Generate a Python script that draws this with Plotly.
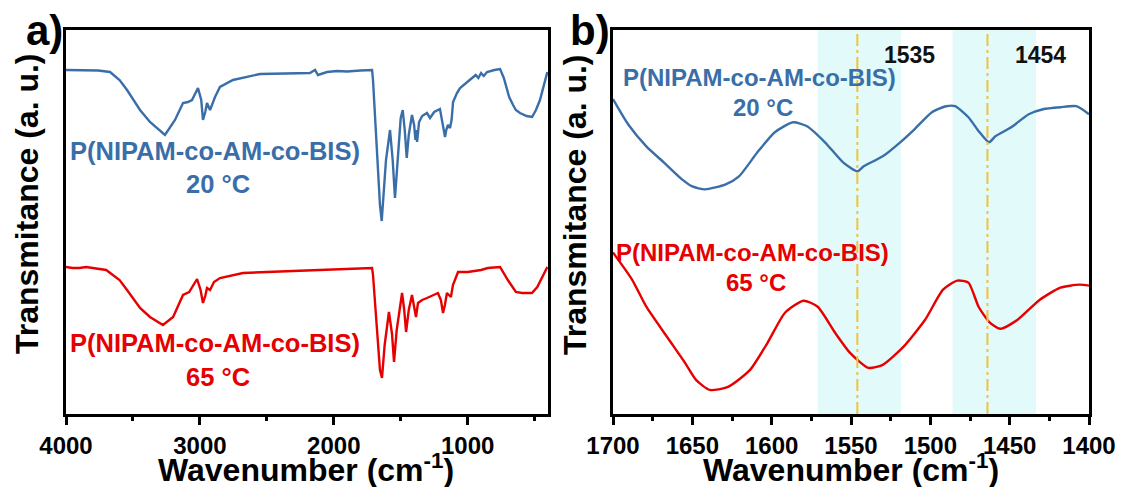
import plotly.graph_objects as go

# ---------------- data ----------------
# Panel a: full spectrum
a_wn_20 = [4000, 3850, 3760, 3671, 3600, 3544, 3447, 3373, 3320, 3261, 3186, 3126, 3089, 3059,
           3014, 2990, 2977, 2960, 2947, 2924, 2887, 2850, 2753, 2551, 2178, 2140, 2118, 2050,
           1976, 1900, 1800, 1714, 1707, 1680, 1655, 1642, 1630, 1610, 1580, 1560, 1543, 1520,
           1500, 1485, 1470, 1455, 1440, 1416, 1400, 1390, 1385, 1378, 1363, 1340, 1320, 1304,
           1281, 1250, 1207, 1190, 1169, 1160, 1147, 1132, 1120, 1109, 1080, 1057, 1000, 960,
           940, 920, 900, 880, 855, 800, 758, 730, 706, 690, 661, 640, 609, 560, 519, 490, 460,
           430, 405]
a_t_20 = [344, 344, 343.5, 342, 334, 324, 304, 292, 286, 279, 294, 311, 312, 314,
          326, 314, 294, 302, 311, 304, 317, 327, 334, 340, 341, 344, 339, 342,
          343, 342.5, 343.5, 344, 334, 264, 209, 193, 214, 254, 284, 254, 216, 264,
          296, 304, 284, 256, 279, 299, 289, 274, 284, 272, 292, 298, 300, 301,
          296, 302, 305, 294, 277, 284, 289, 286, 294, 312, 321, 326, 332, 336,
          339, 336, 341, 338, 342, 344, 345, 336, 324, 317, 309, 304, 301, 298, 297, 304, 314,
          329, 342]

a_wn_65 = [4000, 3950, 3900, 3850, 3700, 3600, 3544, 3447, 3373, 3300, 3276, 3200, 3126, 3080,
           3021, 2995, 2977, 2960, 2947, 2924, 2895, 2850, 2678, 2305, 1900, 1730, 1714, 1707,
           1680, 1655, 1640, 1620, 1588, 1565, 1550, 1530, 1490, 1474, 1460, 1440, 1416, 1400,
           1386, 1371, 1340, 1304, 1222, 1200, 1184, 1170, 1155, 1140, 1125, 1110, 1072, 1000,
           900, 850, 758, 700, 640, 595, 520, 480, 405]
a_t_65 = [147, 146, 146, 147, 144, 134, 124, 106, 97, 91, 89, 97, 119, 122,
          135, 124, 111, 118, 126, 124, 132, 136, 141, 143, 145, 146, 146, 139,
          84, 44, 36, 69, 102, 80, 52, 84, 121, 104, 82, 104, 119, 109,
          97, 111, 114, 116, 121, 114, 101, 109, 121, 119, 117, 129, 142, 142,
          144, 146, 147, 134, 122, 121, 121, 127, 147]

# Panel b: 1700-1400 cm-1 zoom
b_wn_20 = [1700, 1690.5, 1679, 1668, 1656.5, 1650, 1642, 1629, 1620.6, 1609, 1598, 1586.5,
           1577.7, 1566.4, 1555, 1546, 1542, 1530, 1519, 1510, 1499, 1490, 1484.4, 1476,
           1469, 1463, 1459, 1449, 1438, 1429, 1418, 1408, 1400]
b_t_20 = [314, 289, 267, 251, 234, 227, 224, 229, 237, 261, 281, 291,
          287, 271, 251, 242, 247, 257, 271, 284, 301, 307, 307, 296,
          281, 271, 277, 286, 299, 304, 306, 307, 299]

b_wn_65 = [1700, 1688, 1679, 1666, 1654.6, 1647.7, 1639, 1627.5, 1613.6, 1602.6, 1591.6, 1580,
           1571, 1560, 1550.6, 1539, 1530, 1517, 1503.3, 1492, 1483, 1476, 1469.6, 1463,
           1456, 1445, 1431, 1418, 1406, 1400]
b_t_65 = [161, 134, 107, 77, 51, 34, 24, 27, 44, 71, 101, 113,
          107, 81, 61, 46, 49, 67, 94, 124, 133, 131, 107, 92,
          85, 94, 114, 126, 129, 128]

band_edges = [(1571, 1518.5), (1486, 1433.5)]
marker_lines = [1546, 1464]
marker_labels = ["1535", "1454"]
label_name = "P(NIPAM-co-AM-co-BIS)"
label_temps = ["20 °C", "65 °C"]

# ---------------- style ----------------
W, H = 1121, 487
BLUE = "#3a6ea8"
RED = "#e60000"
FONT = "Liberation Sans, Arial, sans-serif"


def px(x):
    return x / W


def py(y):
    return 1 - y / H


fig = go.Figure()
fig.add_trace(go.Scatter(x=a_wn_20, y=a_t_20, mode="lines", line=dict(color=BLUE, width=2.4),
                         xaxis="x", yaxis="y", showlegend=False))
fig.add_trace(go.Scatter(x=a_wn_65, y=a_t_65, mode="lines", line=dict(color=RED, width=2.4),
                         xaxis="x", yaxis="y", showlegend=False))
fig.add_trace(go.Scatter(x=b_wn_20, y=b_t_20, mode="lines",
                         line=dict(color=BLUE, width=2.4, shape="spline", smoothing=0.6),
                         xaxis="x2", yaxis="y2", showlegend=False))
fig.add_trace(go.Scatter(x=b_wn_65, y=b_t_65, mode="lines",
                         line=dict(color=RED, width=2.4, shape="spline", smoothing=0.6),
                         xaxis="x2", yaxis="y2", showlegend=False))

ydom = [py(414), py(30)]
common_x = dict(showline=True, linewidth=2.8, linecolor="black", mirror=True,
                ticks="outside", ticklen=8, tickwidth=2.5, tickcolor="black",
                showgrid=False, zeroline=False, automargin=False,
                tickfont=dict(family=FONT, size=24, color="black", weight="bold"))
common_y = dict(showline=True, linewidth=2.8, linecolor="black", mirror=True, automargin=False,
                showticklabels=False, ticks="", showgrid=False, zeroline=False)

fig.update_layout(
    width=W, height=H,
    margin=dict(l=0, r=0, t=0, b=0, autoexpand=False),
    paper_bgcolor="white", plot_bgcolor="white",
    xaxis=dict(domain=[px(66), px(548)], range=[4000, 400], tickvals=[4000, 3000, 2000, 1000],
               minor=dict(tickvals=[3500, 2500, 1500, 500], ticklen=4, tickwidth=2.5,
                          tickcolor="black", ticks="outside"),
               anchor="y", **common_x),
    yaxis=dict(domain=ydom, range=[0, 384], anchor="x", **common_y),
    xaxis2=dict(domain=[px(613), px(1089)], range=[1700, 1400], dtick=50, tick0=1400,
                minor=dict(dtick=25, tick0=1400, ticklen=4, tickwidth=2.5,
                           tickcolor="black", ticks="outside"),
                anchor="y2", **common_x),
    yaxis2=dict(domain=ydom, range=[0, 383], anchor="x2", **common_y),
)

# shaded bands and dash-dot markers on panel b
for (x0, x1) in band_edges:
    fig.add_shape(type="rect", xref="x2", yref="y2 domain", x0=x0, x1=x1, y0=0, y1=1,
                  fillcolor="#e2faf9", line=dict(width=0), layer="below")
for xv in marker_lines:
    fig.add_shape(type="line", xref="x2", yref="y2 domain", x0=xv, x1=xv, y0=0, y1=1,
                  line=dict(color="#f2c23a", width=2, dash="12px,4px,3px,4px"), layer="above")

ann = []


def add_text(text, x, y, size, color="black", angle=0):
    ann.append(dict(text="<b>" + text + "</b>", x=px(x), y=py(y), xref="paper", yref="paper",
                    showarrow=False, xanchor="center", yanchor="middle", textangle=angle,
                    font=dict(family=FONT, size=size, color=color)))


# panel letters
add_text("a)", 44, 30, 42)
add_text("b)", 590, 30, 42)

# axis titles
add_text("Wavenumber (cm<sup>-1</sup>)", 306, 468, 32)
add_text("Wavenumber (cm<sup>-1</sup>)", 851, 468, 32)
add_text("Transmitance (a. u.)", 27, 204, 32, angle=-90)
add_text("Transmitance (a. u.)", 575, 204, 32, angle=-90)

# series labels panel a
add_text(label_name, 215, 151, 25.5, BLUE)
add_text(label_temps[0], 218, 184, 25.5, BLUE)
add_text(label_name, 215, 343, 25.5, RED)
add_text(label_temps[1], 218, 377, 25.5, RED)
# series labels panel b
add_text(label_name, 759, 77, 24, BLUE)
add_text(label_temps[0], 763, 108, 24, BLUE)
add_text(label_name, 752, 252, 24, RED)
add_text(label_temps[1], 756, 282, 24, RED)

# peak labels
add_text(marker_labels[0], 909, 55, 23, color="#111111")
add_text(marker_labels[1], 1040, 55, 23, color="#111111")

fig.update_layout(annotations=ann)
fig.write_html("out.html")
